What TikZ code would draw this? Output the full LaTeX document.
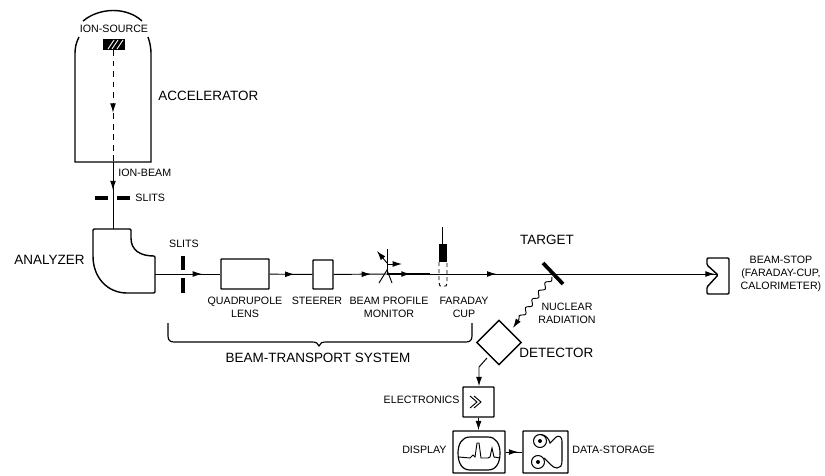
\documentclass[tikz,border=0pt]{standalone}
\usepackage{fontspec}
\setmainfont{Liberation Sans}
\usetikzlibrary{arrows.meta,calc,decorations.markings,decorations.pathmorphing,shapes.geometric}

\begin{document}
\begin{tikzpicture}[
            x=0.03cm, y=-0.03cm,
            line width=0.8pt,
            label/.style={inner sep=0pt, align=center, font=\fontsize{9.1}{11}\selectfont},
            biglabel/.style={inner sep=0pt, align=center, font=\fontsize{11.5}{13}\selectfont},
            box/.style={draw, rectangle, line width=1.2pt, rounded corners=0.5pt, inner sep=0pt},
            slit/.style={line width=3pt},
            midarrow/.style={postaction={decorate}, decoration={markings, mark=at position #1 with {\arrow{Latex[length=8pt,width=5pt]}}}},
            endarrow/.style={-{Latex[length=8pt,width=5pt]}}
        ]
        \useasboundingbox (0,0) rectangle (825,475);

        % accelerator
        \draw[line width=1.2pt] (83,21) .. controls (100,7) and (127,7) .. (142,21);
        \draw[line width=1.2pt] (79,37) .. controls (76,43) and (75,47) .. (75,55) -- (75,162) -- (151,162) -- (151,55) .. controls (151,47) and (150,43) .. (148,37);
        \node[label] (source) at (114,29) {ION-SOURCE};
        \node[minimum width=22*0.03cm, minimum height=11*0.03cm, inner sep=0pt, fill=black] (ionsrc) at (114,44.5) {};
        \draw[white, line width=0.8pt] (108,49) -- (114,40) (112,49) -- (118,40) (117,49) -- (123,40);
        \coordinate (accout) at (113,162);
        \draw[dash pattern=on 5pt off 4pt, midarrow=0.56] (113,50) -- (accout);
        \node[biglabel, anchor=west] (accel) at (158,96) {ACCELERATOR};

        % analyzer
        \coordinate (anain) at (113,229);
        \coordinate (anaout) at (155,274);
        \draw[line width=1.2pt, rounded corners=1pt] (93,229) -- (131,229) -- (131,237) .. controls (131,250) and (140,256) .. (155,256) -- (155,293) -- (128,293) .. controls (108,293) and (93,278) .. (93,255) -- cycle;
        \node[biglabel, anchor=east] (analyzer) at (85,260) {ANALYZER};
        \draw[midarrow=0.42] (accout) -- (anain);
        \node[label, anchor=west] (ionbeam) at (118,173) {ION-BEAM};
        \draw[slit] (95,198) -- (108,198) (117,198) -- (130,198);
        \node[label, anchor=west] (slitsa) at (135,198) {SLITS};

        % beam line
        \node[box, minimum width=48*0.03cm, minimum height=30*0.03cm] (quad) at (245,274) {};
        \node[box, minimum width=20*0.03cm, minimum height=29*0.03cm] (steer) at (323,274.5) {};
        \coordinate (profile) at (387,274);
        \coordinate (target) at (553,274);
        \node[label] (slitsb) at (184,244) {SLITS};
        \draw[midarrow=0.72] (anaout) -- (quad);
        \draw[slit] (183,256) -- (183,270) (183,278) -- (183,293);
        \draw[midarrow=0.58] (quad) -- (steer);
        \draw[midarrow=0.7] (steer) -- (profile);
        \draw[line width=1.2pt, midarrow=0.55] (profile) -- (430,274);
        \draw[midarrow=0.54] (430,274) -- (target);
        \draw[midarrow=0.98] (target) -- (718,274);
        \node[label] (quadlab) at (245,307.5) {QUADRUPOLE\\LENS};
        \node[label] (steerlab) at (317,300.5) {STEERER};
        \node[label] (proflab) at (389,307) {BEAM PROFILE\\MONITOR};
        \node[label] (farlab) at (464,307) {FARADAY\\CUP};

        % beam profile monitor
        \draw (387,249) -- (profile);
        \draw (379,283) -- (387,270) -- (392,283);
        \draw[endarrow] (387,264) -- (402,264);
        \draw[endarrow] (387,263) -- (377,251);

        % faraday cup
        \node[minimum width=8*0.03cm, minimum height=18*0.03cm, inner sep=0pt, fill=black] (cup) at (443,253) {};
        \draw (442,227) -- (442,244);
        \draw[dash pattern=on 3.5pt off 2.5pt] (439,262) -- (439,283) -- (440,286) -- (446,286) -- (447,283) -- (447,262);

        % target and stop
        \draw[line width=3.2pt] (543,263) -- (563,284);
        \node[biglabel] (targetlab) at (547,240) {TARGET};
        \draw[line width=1.2pt, rounded corners=1pt] (707,258) -- (729,258) -- (729,294) -- (707,294) -- (707,287) -- (718,275) -- (707,265) -- cycle;
        \node[label] (stoplab) at (781,274) {BEAM-STOP\\(FARADAY-CUP,\\CALORIMETER)};

        % detector chain
        \node[draw, diamond, aspect=1, line width=1.2pt, minimum width=45*0.03cm, minimum height=45*0.03cm, inner sep=0pt] (det) at (499,342.5) {};
        \node[biglabel, anchor=west] (detlab) at (519,353) {DETECTOR};
        \coordinate (radend) at (513,328);
        \draw[decorate, decoration={snake, amplitude=1.8pt, segment length=9pt}] (552,277) -- (517,322);
        \draw[endarrow] (517,322) -- (radend);
        \node[label] (nuclab) at (567,313.5) {NUCLEAR\\RADIATION};
        \node[box, minimum width=31*0.03cm, minimum height=30*0.03cm] (elec) at (478.5,402) {};
        \node[label, anchor=east] (eleclab) at (460,399.5) {ELECTRONICS};
        \draw (470,396) -- (477,402) -- (470,408) (474,396) -- (481,402) -- (474,408);
        \node[box, minimum width=52*0.03cm, minimum height=42*0.03cm] (disp) at (479,452) {};
        \node[label, anchor=east] (displab) at (447,449.5) {DISPLAY};
        \node[box, minimum width=45*0.03cm, minimum height=42*0.03cm] (store) at (545.5,452) {};
        \node[label, anchor=west] (storelab) at (572,449.5) {DATA-STORAGE};
        \draw[endarrow] (487,358) -- (479,367) -- (elec.north -| 479,367);
        \draw[endarrow] (elec) -- (disp.north -| elec);
        \draw[midarrow=0.75] (disp.east) -- (store.west);

        % screen and tape
        \draw[line width=1pt] (470,437) -- (488,437) .. controls (496,437) and (500,444) .. (500,453) .. controls (500,463) and (496,470) .. (488,470) -- (470,470) .. controls (462,470) and (458,463) .. (458,453) .. controls (458,444) and (462,437) .. (470,437) -- cycle;
        \draw[line width=0.8pt] (459,457) -- (470,458) -- (473,455) -- (475,457) -- (477,443) -- (479,443) -- (481,458) -- (488,458) -- (490,457) -- (492,448) -- (494,457) -- (500,458);
        \node[draw, circle, minimum size=13*0.03cm, inner sep=0pt, line width=0.9pt] (reela) at (540,441) {};
        \node[draw, circle, minimum size=13*0.03cm, inner sep=0pt, line width=0.9pt] (reelb) at (538,462) {};
        \fill (reela) circle (2);
        \fill (reelb) circle (2);
        \draw[line width=0.9pt] (541,434.5) .. controls (546,435) and (549,439) .. (550,443) -- (556,437) .. controls (559,435) and (562,437) .. (562,441) -- (562,461) .. controls (562,466) and (560,468) .. (557,468) .. controls (552,468) and (549,462) .. (544,458);

        % brace
        \draw[line width=1pt] (168,323) -- (168,336) .. controls (168,340) and (170,342) .. (174,342) -- (312,342) .. controls (316,342) and (318,343) .. (319,346) .. controls (320,343) and (322,342) .. (326,342) -- (466,342) .. controls (470,342) and (472,340) .. (472,336) -- (472,323);
        \node[biglabel] (translab) at (318,358) {BEAM-TRANSPORT SYSTEM};
    \end{tikzpicture}
\end{document}
